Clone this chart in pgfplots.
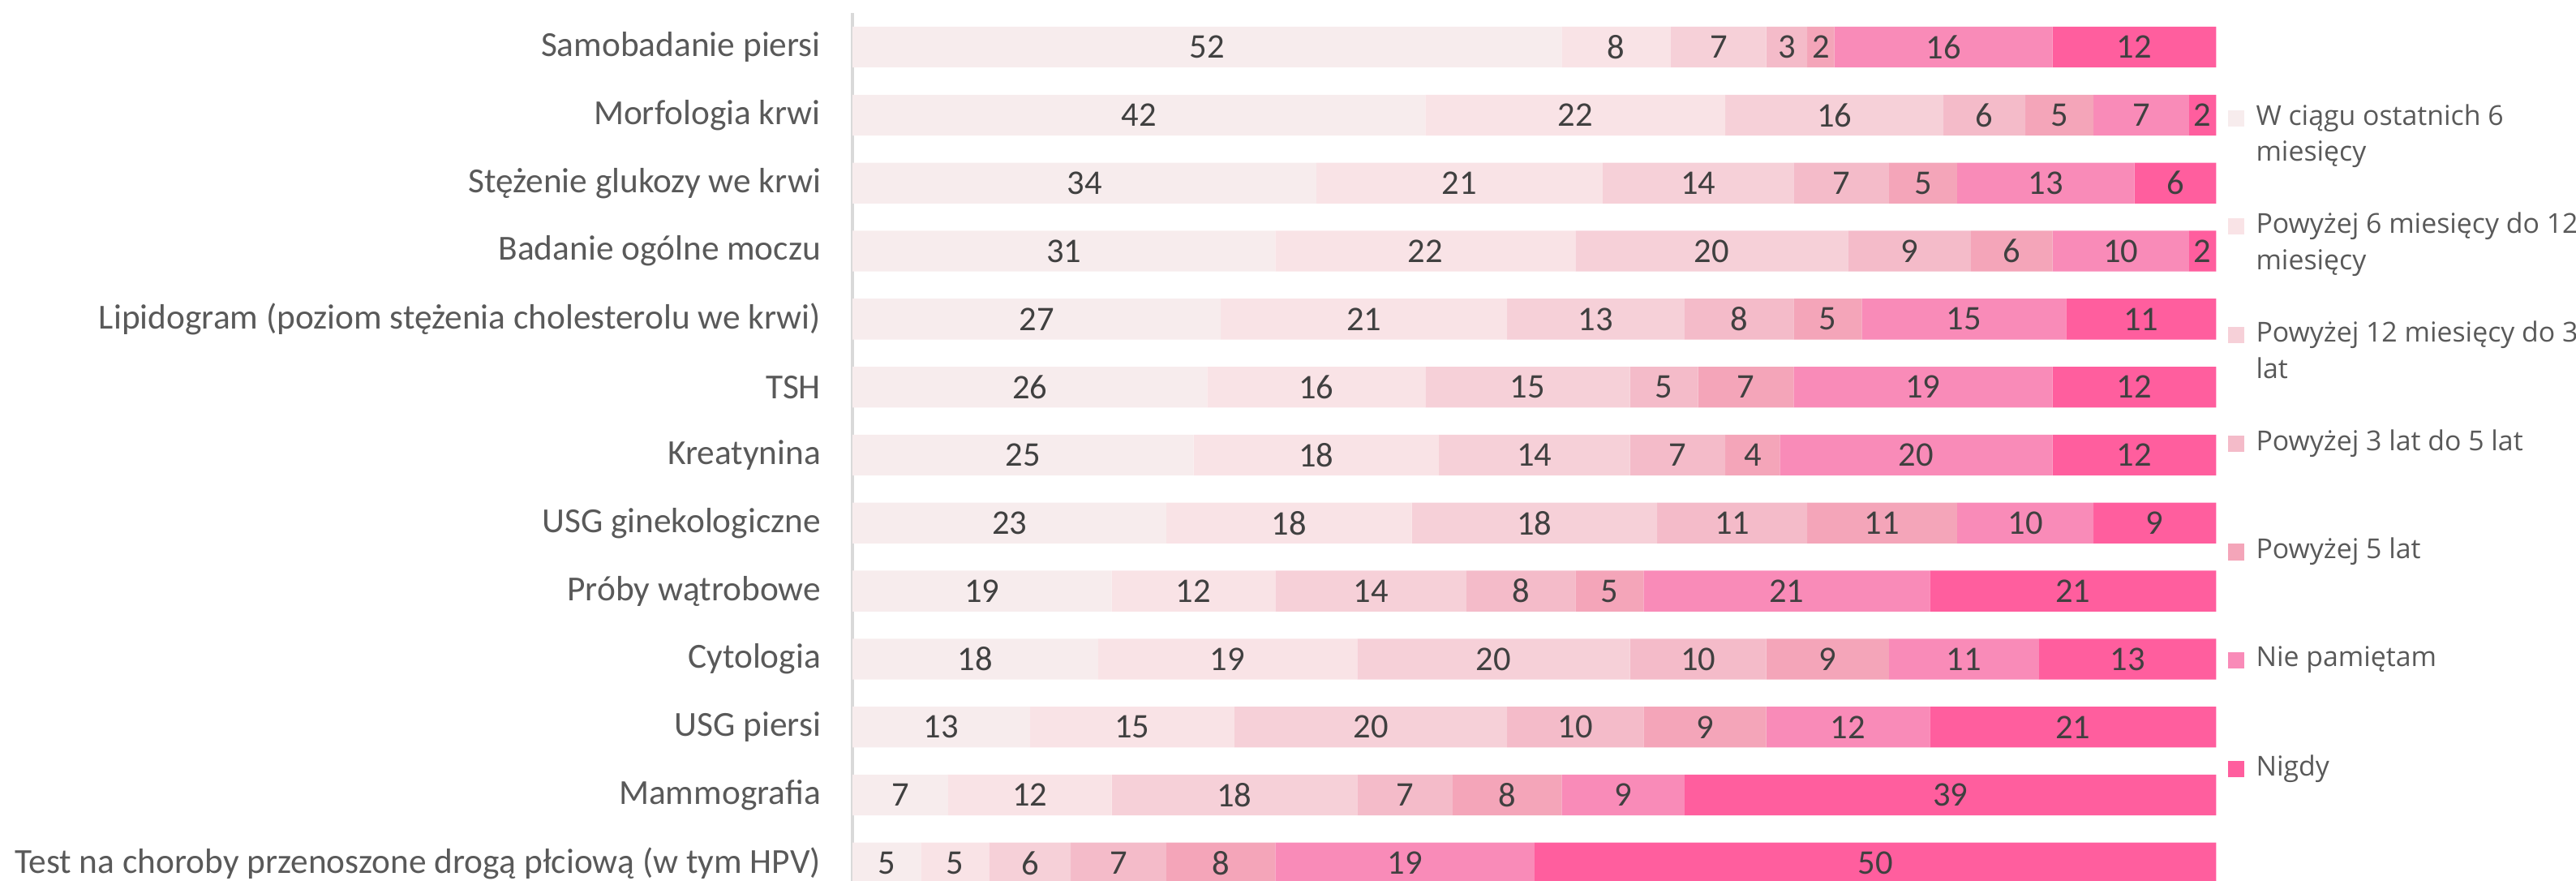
\documentclass[border=0pt]{standalone}
\usepackage{fontspec}
\setmainfont{Carlito}
\newfontfamily\legfont{Open Sans}
\usepackage{pgfplots}
\usepackage{pgfplotstable}
\pgfplotsset{compat=1.18}
\definecolor{c1}{HTML}{F7ECED}
\definecolor{c2}{HTML}{F9E3E6}
\definecolor{c3}{HTML}{F6D0D8}
\definecolor{c4}{HTML}{F4BBC9}
\definecolor{c5}{HTML}{F4A5B9}
\definecolor{c6}{HTML}{F98BB8}
\definecolor{c7}{HTML}{FF5E9E}
\definecolor{lbl}{HTML}{595959}
\definecolor{num}{HTML}{404040}
\definecolor{axl}{HTML}{D9D9D9}

\pgfplotstableread{
y a b c d e f g
0 5 5 6 7 8 19 50
1 7 12 18 7 8 9 39
2 13 15 20 10 9 12 21
3 18 19 20 10 9 11 13
4 19 12 14 8 5 21 21
5 23 18 18 11 11 10 9
6 25 18 14 7 4 20 12
7 26 16 15 5 7 19 12
8 27 21 13 8 5 15 11
9 31 22 20 9 6 10 2
10 34 21 14 7 5 13 6
11 42 22 16 6 5 7 2
12 52 8 7 3 2 16 12
}\data

\newcommand{\legtxt}[1]{\parbox[t]{130pt}{\raggedright\legfont\fontsize{8.35}{11}\selectfont\color{lbl}#1}}

\begin{document}
\begin{tikzpicture}
\begin{axis}[
  xbar stacked,
  scale only axis,
  width=415pt, height=264pt,
  xmin=0, xmax=100,
  ymin=-0.26, ymax=12.5,
  bar width=0.6,
  axis x line=none,
  axis y line=left,
  y axis line style={draw=axl, line width=1pt, -},
  ytick={0,...,12},
  yticklabels={{Test na choroby przenoszone drogą płciową (w tym HPV)},{Mammografia},{USG piersi},{Cytologia},{Próby wątrobowe},{USG ginekologiczne},{Kreatynina},{TSH},{Lipidogram (poziom stężenia cholesterolu we krwi)},{Badanie ogólne moczu},{Stężenie glukozy we krwi},{Morfologia krwi},{Samobadanie piersi\ }},
  ytick style={draw=none},
  major tick length=0pt,
  yticklabel style={font=\fontsize{10.7}{13}\selectfont, text=lbl, inner sep=0pt, xshift=-9.5pt},
  /pgf/number format/assume math mode=true,
  nodes near coords,
  every node near coord/.append style={font=\fontsize{10.5}{12}\selectfont, text=num},
  legend style={at={(1.0080,0.9223)}, anchor=north west, draw=none, fill=none, inner sep=0pt, row sep=0pt, column sep=3.6pt, cells={anchor=base west}, nodes={inner sep=0pt, text height=7pt, text depth=26pt}},
  legend image code/.code={\fill[#1] (0pt,-6.75pt) rectangle (5pt,-1.75pt);},
]
\addplot+[fill=c1, draw=none] table[x=a, y=y] {\data};
\addplot+[fill=c2, draw=none] table[x=b, y=y] {\data};
\addplot+[fill=c3, draw=none] table[x=c, y=y] {\data};
\addplot+[fill=c4, draw=none] table[x=d, y=y] {\data};
\addplot+[fill=c5, draw=none] table[x=e, y=y] {\data};
\addplot+[fill=c6, draw=none] table[x=f, y=y] {\data};
\addplot+[fill=c7, draw=none] table[x=g, y=y] {\data};
\addlegendentry{\legtxt{W ciągu ostatnich 6\\miesięcy}}
\addlegendentry{\legtxt{Powyżej 6 miesięcy do 12\\miesięcy}}
\addlegendentry{\legtxt{Powyżej 12 miesięcy do 3\\lat}}
\addlegendentry{\legtxt{Powyżej 3 lat do 5 lat}}
\addlegendentry{\legtxt{Powyżej 5 lat}}
\addlegendentry{\legtxt{Nie pamiętam}}
\addlegendentry{\legtxt{Nigdy}}
\end{axis}
\pgfresetboundingbox
\path[use as bounding box] (-259.5pt,0pt) rectangle (524.5pt,268pt);
\end{tikzpicture}
\end{document}
